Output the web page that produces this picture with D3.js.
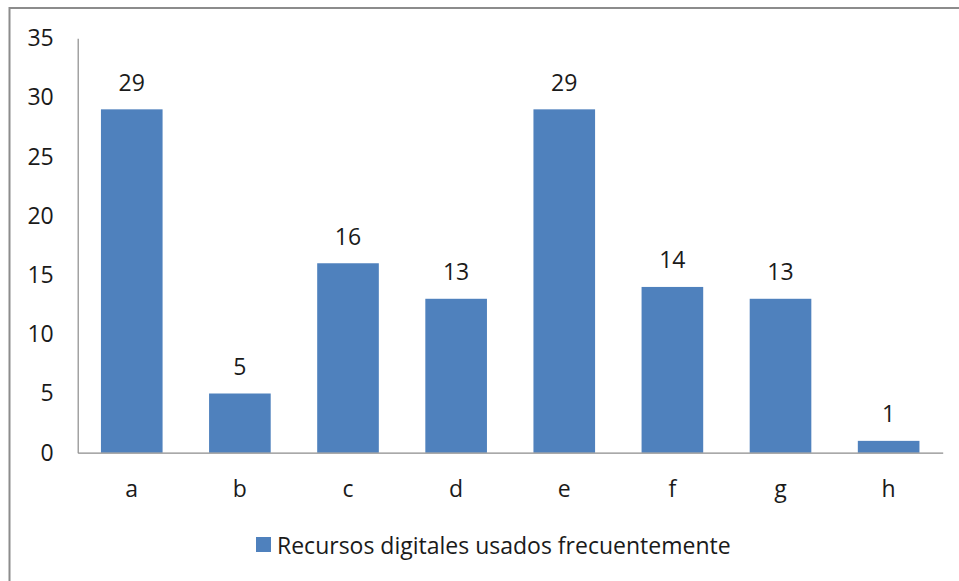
<!DOCTYPE html>
<html>
<head>
<meta charset="utf-8">
<script src="https://cdn.jsdelivr.net/npm/d3@7"></script>
<style>
  html, body { margin: 0; padding: 0; background: #fff; }
  svg { display: block; }
  text { font-family: "Open Sans", Lato, sans-serif; fill: #1a1a1a; }
</style>
</head>
<body>
<div id="chart"></div>
<script>
const categories = ['a', 'b', 'c', 'd', 'e', 'f', 'g', 'h'];
const values     = [29, 5, 16, 13, 29, 14, 13, 1];
const yTicks     = [0, 5, 10, 15, 20, 25, 30, 35];
const seriesName = 'Recursos digitales usados frecuentemente';

const W = 959, H = 581;
const plot = { left: 77.7, right: 942.7, top: 38.3, bottom: 452.7 };

const svg = d3.select('#chart')
  .append('svg')
  .attr('width', W)
  .attr('height', H);

// frame (cropped on right and bottom)
svg.append('path')
  .attr('d', `M9.5,${H + 2} L9.5,8 L${W + 2},8`)
  .attr('fill', 'none')
  .attr('stroke', '#8c8c8c')
  .attr('stroke-width', 2);

const x = d3.scaleBand()
  .domain(categories)
  .range([plot.left, plot.right])
  .paddingInner(0.43)
  .paddingOuter(0.215);

const y = d3.scaleLinear()
  .domain([0, 35])
  .range([plot.bottom, plot.top]);

const data = categories.map((c, i) => ({ cat: c, val: values[i] }));

// bars
svg.append('g')
  .selectAll('rect')
  .data(data)
  .join('rect')
  .attr('x', d => x(d.cat))
  .attr('y', d => y(d.val))
  .attr('width', x.bandwidth())
  .attr('height', d => y(0) - y(d.val))
  .attr('fill', '#4f81bd');

// value labels
svg.append('g')
  .selectAll('text')
  .data(data)
  .join('text')
  .attr('x', d => x(d.cat) + x.bandwidth() / 2)
  .attr('y', d => y(d.val) - 18.5)
  .attr('text-anchor', 'middle')
  .attr('font-size', 23)
  .text(d => d.val);

// y axis
const yAxis = svg.append('g')
  .attr('transform', `translate(${plot.left},0)`)
  .call(d3.axisLeft(y).tickValues(yTicks).tickSize(0).tickPadding(24));
yAxis.select('.domain').attr('stroke', '#8c8c8c').attr('stroke-width', 1.2);
yAxis.selectAll('.tick text').attr('font-size', 23).attr('fill', '#1a1a1a');

// x axis
const xAxis = svg.append('g')
  .attr('transform', `translate(0,${plot.bottom})`)
  .call(d3.axisBottom(x).tickSize(0).tickPadding(27.5));
xAxis.select('.domain').attr('stroke', '#8c8c8c').attr('stroke-width', 1.2);
xAxis.selectAll('.tick text').attr('font-size', 23).attr('fill', '#1a1a1a');

// legend
const legend = svg.append('g').attr('transform', 'translate(256,537)');
legend.append('rect')
  .attr('width', 15)
  .attr('height', 15)
  .attr('fill', '#4f81bd');
legend.append('text')
  .attr('x', 21)
  .attr('y', 17)
  .attr('font-size', 23)
  .text(seriesName);
</script>
</body>
</html>
